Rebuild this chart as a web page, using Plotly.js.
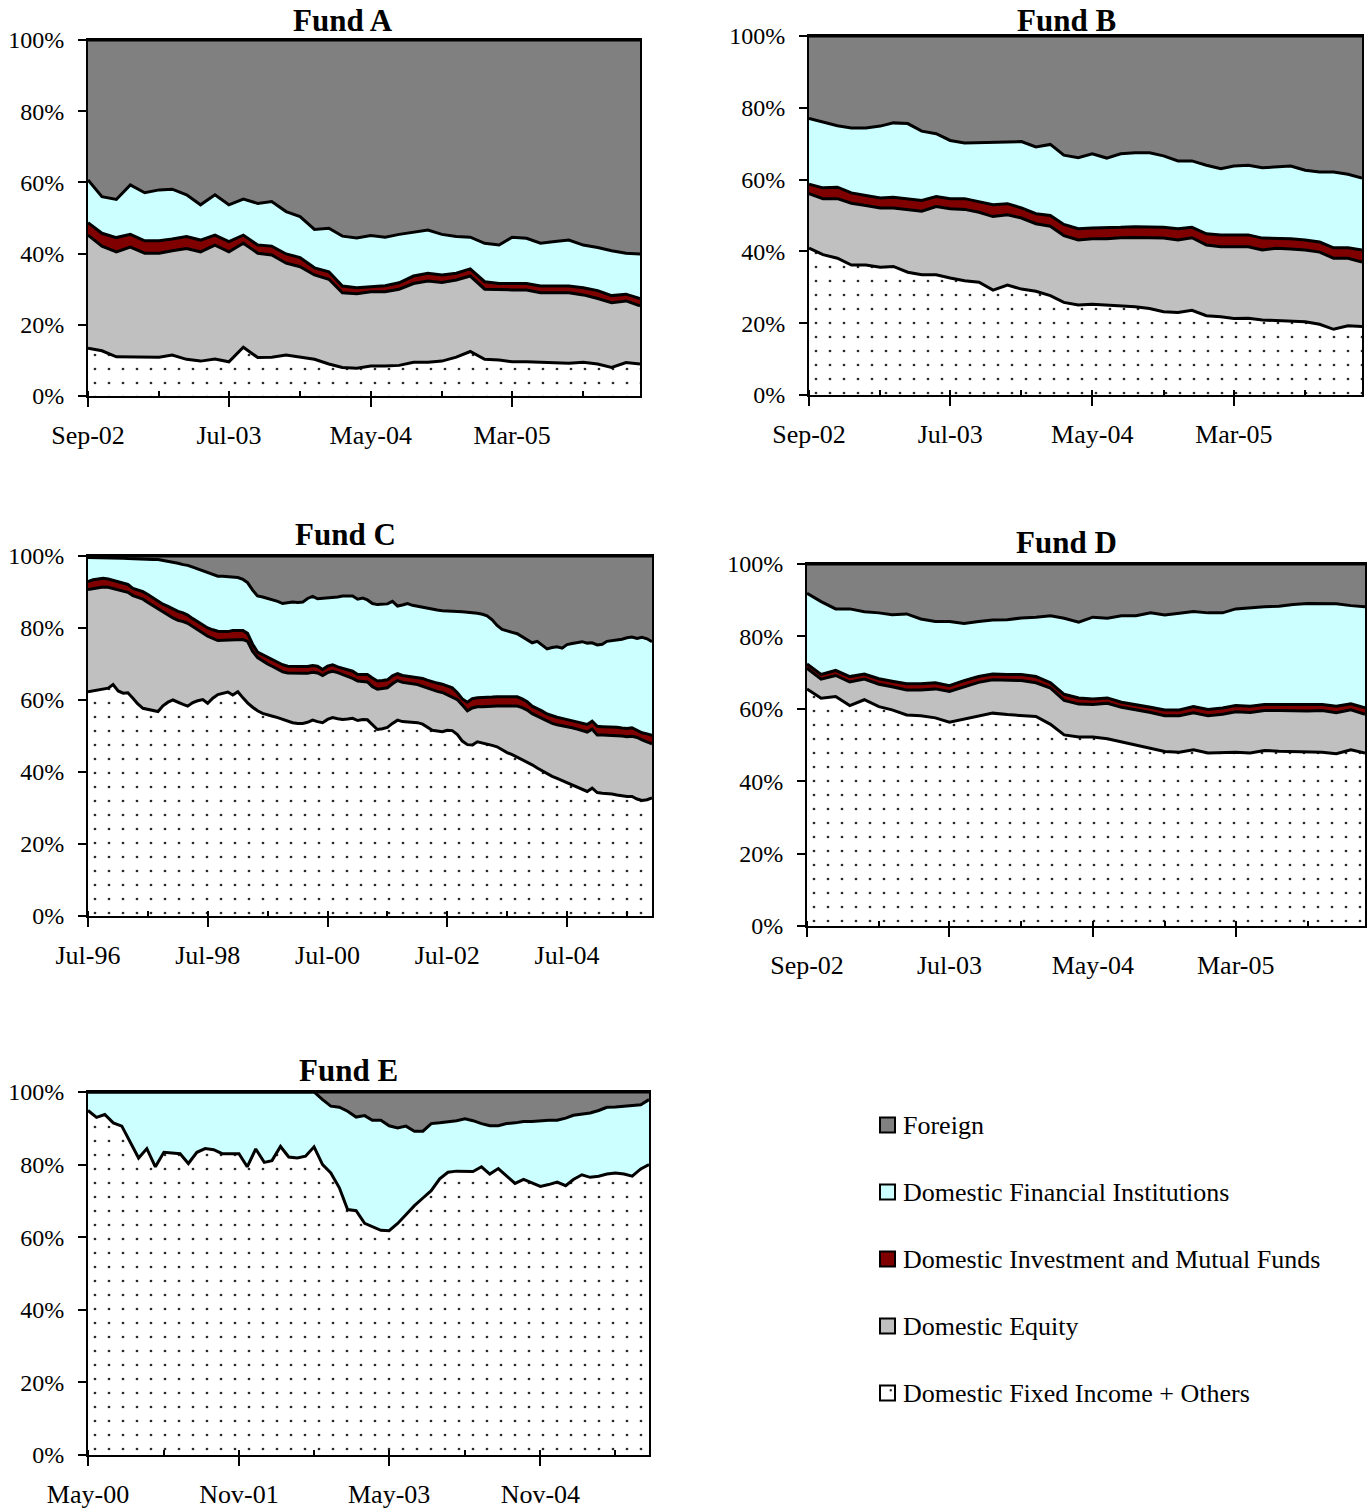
<!DOCTYPE html>
<html>
<head>
<meta charset="utf-8">
<script src="https://cdn.plot.ly/plotly-3.0.1.min.js"></script>
<style>
html,body{margin:0;padding:0;background:#fff;}
#chart{width:1372px;height:1508px;}
</style>
</head>
<body>
<div id="chart"></div>
<script>
// ---------------- DATA ----------------
const seriesNames = ['Domestic Fixed Income + Others','Domestic Equity','Domestic Investment and Mutual Funds','Domestic Financial Institutions','Foreign'];
const legendOrder = ['Foreign','Domestic Financial Institutions','Domestic Investment and Mutual Funds','Domestic Equity','Domestic Fixed Income + Others'];
const yTickValues = [0,20,40,60,80,100];
const yTickLabels = ['0%','20%','40%','60%','80%','100%'];

// Fund A: monthly, Sep-02 .. Dec-05 (shares in %)
const fundA_start = [2002, 9], fundA_count = 40;
const fundA_tickDates = ['2002-09-01','2003-07-01','2004-05-01','2005-03-01'];
const fundA_tickLabels = ['Sep-02','Jul-03','May-04','Mar-05'];
const fundA_fixed = [13.4,12.7,11.0,11.0,10.9,10.9,11.5,10.3,9.8,10.4,9.6,13.7,10.8,10.9,11.5,11.0,10.3,9.0,8.0,7.8,8.4,8.4,8.6,9.5,9.5,9.8,10.9,12.5,10.3,10.1,9.6,9.6,9.5,9.2,9.2,9.5,9.0,8.0,9.4,9.0];
const fundA_equity = [31.8,29.4,29.5,30.8,29.2,29.2,29.3,31.1,30.7,32.0,30.9,29.2,29.3,28.7,25.8,25.3,23.7,23.8,21.0,20.9,20.9,20.9,21.4,22.1,22.8,22.1,21.7,21.2,19.7,19.7,20.2,20.2,19.5,19.8,19.8,18.9,18.4,18.2,17.3,16.3];
const fundA_invest = [3.5,3.6,4.0,3.6,3.5,3.5,3.3,3.4,3.3,2.8,2.9,2.3,2.3,2.5,2.6,2.6,2.0,2.1,1.9,1.7,1.4,1.7,1.8,2.1,2.2,2.1,1.9,2.0,2.1,1.8,1.8,1.8,1.9,1.9,1.9,2.0,2.2,2.0,1.9,2.1];
const fundA_financial = [12.0,10.3,10.7,13.9,13.5,14.3,14.0,11.7,9.9,11.3,10.3,10.1,11.7,12.5,11.9,11.5,10.8,12.2,14.0,14.0,14.4,13.6,13.6,12.3,12.1,11.4,10.3,8.9,10.8,10.8,13.0,12.7,12.0,12.5,12.9,12.0,12.1,12.6,11.5,12.5];
const fundA_foreign = [39.3,44.0,44.8,40.7,42.9,42.1,41.9,43.5,46.3,43.5,46.3,44.7,45.9,45.4,48.2,49.6,53.2,52.9,55.1,55.6,54.9,55.4,54.6,54.0,53.4,54.6,55.2,55.4,57.1,57.6,55.4,55.7,57.1,56.6,56.2,57.6,58.3,59.2,59.9,60.1];

// Fund B: monthly, Sep-02 .. Dec-05
const fundB_start = [2002, 9], fundB_count = 40;
const fundB_tickDates = ['2002-09-01','2003-07-01','2004-05-01','2005-03-01'];
const fundB_tickLabels = ['Sep-02','Jul-03','May-04','Mar-05'];
const fundB_fixed = [40.9,39.1,38.1,36.2,36.2,35.6,35.8,34.2,33.5,33.5,32.6,31.8,31.4,29.2,30.6,29.5,28.9,27.7,25.8,25.1,25.3,25.1,24.9,24.6,24.1,23.2,23.0,23.6,22.1,21.8,21.3,21.4,20.9,20.7,20.4,20.4,19.7,18.3,19.3,19.1];
const fundB_equity = [15.2,15.6,16.6,17.2,16.6,16.5,16.3,17.5,17.7,19.0,19.3,19.9,19.5,20.5,19.6,19.8,18.8,19.3,18.6,18.1,18.2,18.4,18.9,19.3,19.8,20.5,20.2,20.2,19.7,19.5,20.0,19.9,19.5,20.2,20.3,20.0,20.1,19.8,18.8,17.9];
const fundB_invest = [2.6,3.0,3.2,2.9,2.8,2.8,3.0,3.0,3.0,2.8,2.8,3.0,3.0,3.3,3.1,2.8,2.8,3.0,3.1,3.1,3.0,3.0,2.9,3.0,3.0,3.0,3.1,2.9,3.1,3.3,3.3,3.3,3.3,2.8,2.8,2.8,2.8,2.9,2.9,3.4];
const fundB_financial = [18.3,18.4,17.1,18.1,18.8,20.0,20.7,20.9,19.3,17.5,16.2,15.5,16.4,17.6,17.2,18.5,18.6,19.8,19.3,19.8,20.7,19.5,20.5,20.6,20.6,19.9,18.9,18.5,19.1,18.4,19.2,19.4,19.6,19.8,20.3,19.4,19.5,21.1,20.5,20.0];
const fundB_foreign = [23.0,23.9,25.0,25.6,25.6,25.1,24.2,24.4,26.5,27.2,29.1,29.8,29.7,29.4,29.5,29.4,30.9,30.2,33.2,33.9,32.8,34.0,32.8,32.5,32.5,33.4,34.8,34.8,36.0,37.0,36.2,36.0,36.7,36.5,36.2,37.4,37.9,37.9,38.5,39.6];

// Fund C: monthly, Jul-96 .. Dec-05
const fundC_start = [1996, 7], fundC_count = 114;
const fundC_tickDates = ['1996-07-01','1998-07-01','2000-07-01','2002-07-01','2004-07-01'];
const fundC_tickLabels = ['Jul-96','Jul-98','Jul-00','Jul-02','Jul-04'];
const fundC_fixed = [62.3,62.6,62.9,63.0,63.3,64.3,62.5,61.9,62.0,60.5,58.9,57.7,57.4,57.1,56.8,58.4,59.4,60.0,59.5,58.8,58.3,59.3,59.8,60.1,59.1,60.5,61.5,61.8,62.2,61.4,62.3,60.6,59.2,58.0,57.0,56.3,55.8,55.5,55.1,54.6,54.1,53.7,53.5,53.5,53.8,54.4,54.0,53.7,54.6,55.1,54.8,54.6,54.7,54.9,54.3,54.6,54.5,53.0,51.8,52.0,52.4,53.5,54.4,54.0,53.9,53.8,53.7,53.3,52.5,51.6,51.4,51.2,51.6,51.5,50.4,48.6,47.6,47.5,48.4,48.1,47.9,47.4,47.0,46.1,45.4,44.8,44.1,43.6,42.9,42.0,41.1,40.3,39.4,38.8,38.2,37.6,37.0,36.4,35.9,35.3,34.6,35.5,34.3,34.1,34.1,33.9,33.6,33.3,33.2,33.2,32.5,32.1,32.3,32.8];
const fundC_equity = [28.4,28.4,28.3,28.4,28.0,26.7,28.1,28.4,27.9,28.5,29.6,30.3,29.7,29.1,28.4,26.0,24.2,22.8,22.6,23.0,23.0,21.1,19.6,18.4,18.6,16.6,15.0,14.8,14.5,15.4,14.6,16.2,17.1,15.5,14.8,14.5,14.2,13.8,13.5,13.2,13.4,13.7,13.9,13.9,13.6,13.3,13.5,13.1,13.0,12.9,12.8,12.5,11.8,11.1,11.0,10.6,10.5,10.7,11.2,11.2,11.0,11.0,11.0,10.9,10.8,10.8,10.6,10.5,10.8,11.2,11.0,10.9,9.9,9.4,9.7,10.0,9.4,10.3,9.7,10.0,10.3,10.8,11.3,12.2,12.9,13.5,14.2,14.3,14.3,14.2,14.4,14.4,14.6,14.7,14.9,15.3,15.6,15.9,16.0,16.2,16.5,16.4,16.0,16.2,16.2,16.3,16.5,16.7,16.6,16.7,17.1,16.8,16.1,15.0];
const fundC_invest = [2.2,2.4,2.4,2.4,2.3,2.2,2.1,2.2,2.2,2.0,2.0,2.1,2.2,2.2,2.1,2.2,2.4,2.4,2.5,2.4,2.3,2.2,2.3,2.3,2.3,2.4,2.6,2.4,2.3,2.5,2.5,2.5,2.2,2.0,1.5,1.8,2.0,2.0,2.0,2.0,1.9,1.9,1.9,1.9,1.9,1.9,1.9,1.7,1.8,1.8,1.6,1.7,1.9,2.0,1.8,2.0,2.1,2.4,2.3,2.2,2.2,2.2,1.9,1.9,1.9,1.9,2.0,2.2,2.2,2.2,2.3,2.3,2.4,2.5,1.9,1.7,2.4,2.6,2.5,2.5,2.5,2.6,2.6,2.6,2.6,2.6,2.6,2.4,2.3,2.1,2.2,2.2,2.1,2.1,2.1,2.0,2.0,2.0,2.1,2.0,2.1,2.2,2.4,2.3,2.3,2.3,2.3,2.2,2.3,2.4,2.0,2.0,2.2,2.4];
const fundC_financial = [6.7,6.2,6.0,5.8,5.9,6.3,6.8,6.9,7.2,8.2,8.6,9.0,9.8,10.6,11.7,12.2,12.5,13.1,13.4,13.4,13.8,14.3,14.7,15.0,15.3,15.3,15.3,15.4,15.3,14.9,14.6,14.2,14.1,15.0,15.6,16.0,16.2,16.7,16.8,17.0,17.6,17.9,17.8,17.9,18.9,19.2,18.7,19.7,18.9,18.6,19.4,20.1,20.6,20.9,20.9,21.1,20.7,20.7,21.2,21.2,21.1,20.7,18.8,19.6,20.2,19.8,19.7,19.8,20.1,20.3,20.3,20.4,20.9,21.3,22.6,24.2,25.0,23.8,23.5,23.2,22.7,21.5,19.8,18.7,18.2,17.9,17.5,17.3,17.2,17.6,18.6,18.3,18.1,19.0,19.6,19.5,20.8,21.4,22.0,22.7,22.6,21.8,22.6,22.9,23.7,24.0,24.4,24.7,25.2,25.2,25.5,26.5,26.4,26.0];
const fundC_foreign = [0.4,0.4,0.4,0.4,0.5,0.5,0.5,0.6,0.7,0.8,0.9,0.9,0.9,1.0,1.0,1.2,1.5,1.7,2.0,2.4,2.6,3.1,3.6,4.2,4.7,5.2,5.6,5.6,5.7,5.8,6.0,6.5,7.4,9.5,11.1,11.4,11.8,12.0,12.6,13.2,13.0,12.8,12.9,12.8,11.8,11.2,11.9,11.8,11.7,11.6,11.4,11.1,11.0,11.1,12.0,11.7,12.2,13.2,13.5,13.4,13.3,12.6,13.9,13.6,13.2,13.7,14.0,14.2,14.4,14.7,15.0,15.2,15.2,15.3,15.4,15.5,15.6,15.8,15.9,16.2,16.6,17.7,19.3,20.4,20.9,21.2,21.6,22.4,23.3,24.1,23.7,24.8,25.8,25.4,25.2,25.6,24.6,24.3,24.0,23.8,24.2,24.1,24.7,24.5,23.7,23.5,23.2,23.1,22.7,22.5,22.9,22.6,23.0,23.8];

// Fund D: monthly, Sep-02 .. Dec-05
const fundD_start = [2002, 9], fundD_count = 40;
const fundD_tickDates = ['2002-09-01','2003-07-01','2004-05-01','2005-03-01'];
const fundD_tickLabels = ['Sep-02','Jul-03','May-04','Mar-05'];
const fundD_fixed = [65.5,62.9,63.4,60.9,62.5,60.6,59.7,58.3,58.1,57.5,56.3,57.2,58.1,58.8,58.4,58.1,57.9,55.7,52.8,52.2,52.2,51.7,50.8,49.9,49.1,48.2,48.0,48.7,47.8,48.0,48.0,47.8,48.5,48.3,48.2,48.2,48.0,47.6,48.7,47.8];
const fundD_equity = [5.7,5.3,5.8,6.5,5.7,6.2,6.4,6.9,7.1,8.0,8.5,8.9,9.2,9.2,9.4,9.7,9.3,10.0,9.5,9.1,9.0,9.8,9.6,9.8,9.9,9.9,10.1,10.2,10.3,10.5,11.2,11.2,11.0,11.2,11.2,11.2,11.5,11.3,11.0,10.7];
const fundD_invest = [1.2,1.3,1.4,1.5,1.4,1.5,1.5,1.7,1.7,1.7,1.6,1.7,1.6,1.6,1.7,1.7,1.7,1.5,1.7,1.7,1.5,1.5,1.4,1.5,1.4,1.6,1.6,1.7,1.7,1.7,1.7,1.7,1.7,1.7,1.8,1.7,1.7,1.8,1.7,1.8];
const fundD_financial = [19.5,20.1,17.0,18.7,17.2,18.2,18.4,19.3,17.9,16.9,17.7,15.8,15.2,14.9,15.1,15.6,16.4,18.5,21.0,20.9,22.6,22.0,23.9,24.5,26.1,26.2,26.7,26.3,26.7,26.3,26.7,27.3,27.0,27.1,27.6,28.0,27.8,28.3,27.1,27.9];
const fundD_foreign = [8.1,10.4,12.4,12.4,13.2,13.5,14.0,13.8,15.2,15.9,15.9,16.4,15.9,15.5,15.4,14.9,14.7,14.3,15.0,16.1,14.7,15.0,14.3,14.3,13.5,14.1,13.6,13.1,13.5,13.5,12.4,12.0,11.8,11.7,11.2,10.9,11.0,11.0,11.5,11.8];

// Fund E: monthly, May-00 .. Dec-05 (no equity / mutual fund holdings)
const fundE_start = [2000, 5], fundE_count = 68;
const fundE_tickDates = ['2000-05-01','2001-11-01','2003-05-01','2004-11-01'];
const fundE_tickLabels = ['May-00','Nov-01','May-03','Nov-04'];
const fundE_fixed = [94.9,93.0,93.8,91.5,90.6,86.2,81.8,84.4,79.4,83.4,83.2,83.0,80.3,83.4,84.4,84.1,83.0,82.9,83.0,79.4,84.3,80.6,81.1,85.0,82.1,81.8,82.3,84.9,80.0,77.7,73.6,67.6,67.3,63.8,62.8,61.9,61.8,63.8,66.2,68.7,70.8,72.8,76.1,77.9,78.2,78.2,78.1,79.4,77.4,78.9,76.8,74.8,75.9,75.0,74.0,74.5,75.2,74.2,75.9,77.2,76.5,76.8,77.4,77.7,77.4,76.8,78.8,80.0];
const fundE_financial = [5.1,7.0,6.2,8.5,9.4,13.8,18.2,15.6,20.6,16.6,16.8,17.0,19.7,16.6,15.6,15.9,17.0,17.1,17.0,20.6,15.7,19.4,18.9,15.0,17.9,18.2,17.7,15.1,17.9,18.4,22.2,27.1,25.8,29.7,29.4,30.3,28.9,26.3,24.4,20.5,18.4,18.5,15.4,13.8,13.9,14.4,14.0,11.9,13.3,11.8,14.5,16.7,16.0,16.9,18.1,17.7,17.0,18.6,17.7,16.8,17.7,18.1,18.4,18.2,18.7,19.3,17.7,17.9];
const fundE_foreign = [0,0,0,0,0,0,0,0,0,0,0,0,0,0,0,0,0,0,0,0,0,0,0,0,0,0,0,0,2.1,3.9,4.2,5.3,6.9,6.5,7.8,7.8,9.3,9.9,9.4,10.8,10.8,8.7,8.5,8.3,7.9,7.4,7.9,8.7,9.3,9.3,8.7,8.5,8.1,8.1,7.9,7.8,7.8,7.2,6.4,6.0,5.8,5.1,4.2,4.1,3.9,3.9,3.5,2.1];

// ---------------- STYLE ----------------
const W = 1372, H = 1508;
const FONT = 'Liberation Serif, Times New Roman, serif';
const colors = {
  'Foreign': '#808080',
  'Domestic Financial Institutions': '#CCFFFF',
  'Domestic Investment and Mutual Funds': '#800000',
  'Domestic Equity': '#C0C0C0',
  'Domestic Fixed Income + Others': '#FFFFFF'
};
const dotPattern = {shape: '.', size: 14, solidity: 0.03, fgcolor: '#2a2a2a', bgcolor: '#FFFFFF', fillmode: 'replace'};

function monthList(start, count) {
  const out = [];
  let y = start[0], m = start[1];
  for (let i = 0; i < count; i++) {
    out.push(y + '-' + String(m).padStart(2, '0') + '-01');
    m++; if (m > 12) { m = 1; y++; }
  }
  return out;
}
const px = x => x / W;
const py = y => 1 - y / H;

// panels: pixel boxes [left, right, top, bottom]
const panels = [
  {name: 'Fund A', box: [88, 640, 40, 396], titleX: 343, titleY: 20, start: fundA_start, count: fundA_count,
   tickDates: fundA_tickDates, tickLabels: fundA_tickLabels, minor: 'M5',
   series: [fundA_fixed, fundA_equity, fundA_invest, fundA_financial, fundA_foreign]},
  {name: 'Fund B', box: [809, 1362, 36, 395], titleX: 1066, titleY: 20, start: fundB_start, count: fundB_count,
   tickDates: fundB_tickDates, tickLabels: fundB_tickLabels, minor: 'M5',
   series: [fundB_fixed, fundB_equity, fundB_invest, fundB_financial, fundB_foreign]},
  {name: 'Fund C', box: [88, 652, 556, 916], titleX: 345, titleY: 534, start: fundC_start, count: fundC_count,
   tickDates: fundC_tickDates, tickLabels: fundC_tickLabels, minor: 'M12',
   series: [fundC_fixed, fundC_equity, fundC_invest, fundC_financial, fundC_foreign]},
  {name: 'Fund D', box: [807, 1365, 564, 926], titleX: 1066, titleY: 542, start: fundD_start, count: fundD_count,
   tickDates: fundD_tickDates, tickLabels: fundD_tickLabels, minor: 'M5',
   series: [fundD_fixed, fundD_equity, fundD_invest, fundD_financial, fundD_foreign]},
  {name: 'Fund E', box: [88, 649, 1092, 1455], titleX: 348, titleY: 1070, start: fundE_start, count: fundE_count,
   tickDates: fundE_tickDates, tickLabels: fundE_tickLabels, minor: 'M9',
   series: [fundE_fixed, null, null, fundE_financial, fundE_foreign]}
];

const traces = [];
const layout = {
  width: W, height: H,
  margin: {l: 0, r: 0, t: 0, b: 0},
  paper_bgcolor: '#FFFFFF', plot_bgcolor: '#FFFFFF',
  showlegend: false, hovermode: false,
  font: {family: FONT, size: 25, color: '#000'},
  annotations: [], shapes: []
};

panels.forEach((p, k) => {
  const idx = k === 0 ? '' : String(k + 1);
  const xa = 'x' + idx, ya = 'y' + idx;
  const dates = monthList(p.start, p.count);
  p.series.forEach((vals, s) => {
    if (!vals) return;
    const nm = seriesNames[s];
    const t = {
      type: 'scatter', mode: 'lines', x: dates, y: vals, name: nm,
      xaxis: xa, yaxis: ya, stackgroup: 'stack' + k, groupnorm: 'percent',
      line: {color: '#000000', width: 3, shape: 'linear'},
      fillcolor: colors[nm], hoverinfo: 'skip'
    };
    if (s === 0) t.fillpattern = dotPattern;
    traces.push(t);
  });
  const [l, r, top, bot] = p.box;
  layout['xaxis' + idx] = {
    domain: [px(l), px(r)], anchor: ya, type: 'date',
    range: [dates[0], dates[dates.length - 1]],
    tickmode: 'array', tickvals: p.tickDates, ticktext: p.tickLabels,
    ticks: 'outside', ticklen: 9, tickwidth: 2, tickcolor: '#000',
    minor: {tick0: dates[0], dtick: p.minor, ticks: 'inside', ticklen: 5, tickwidth: 2, tickcolor: '#000', showgrid: false},
    ticklabelstandoff: 6,
    showline: true, linecolor: '#000', linewidth: 2, mirror: true,
    showgrid: false, zeroline: false, fixedrange: true,
    tickfont: {family: FONT, size: 26, color: '#000'}
  };
  layout['yaxis' + idx] = {
    domain: [py(bot), py(top)], anchor: xa, range: [0, 100],
    tickmode: 'array', tickvals: yTickValues, ticktext: yTickLabels,
    ticks: 'outside', ticklen: 8, tickwidth: 2, tickcolor: '#000',
    ticklabelstandoff: 9,
    showline: true, linecolor: '#000', linewidth: 2, mirror: true,
    showgrid: false, zeroline: false, fixedrange: true,
    tickfont: {family: FONT, size: 24, color: '#000'}
  };
  layout.annotations.push({
    xref: 'paper', yref: 'paper', x: px(p.titleX), y: py(p.titleY),
    xanchor: 'center', yanchor: 'middle', showarrow: false,
    text: '<b>' + p.name + '</b>', font: {family: FONT, size: 31, color: '#000'}
  });
});

// legend (drawn as shapes + text)
const legendY = [1125, 1192, 1259, 1326, 1393];
legendOrder.forEach((nm, i) => {
  const cy = legendY[i];
  layout.shapes.push({
    type: 'rect', xref: 'paper', yref: 'paper',
    x0: px(880), x1: px(895), y0: py(cy + 7.5), y1: py(cy - 7.5),
    fillcolor: colors[nm], line: {color: '#000', width: 2}
  });
  if (nm === 'Domestic Fixed Income + Others') {
    layout.shapes.push({
      type: 'circle', xref: 'paper', yref: 'paper',
      x0: px(889.5), x1: px(892), y0: py(1391.5), y1: py(1389),
      fillcolor: '#333', line: {width: 0}
    });
  }
  layout.annotations.push({
    xref: 'paper', yref: 'paper', x: px(901), y: py(cy),
    xanchor: 'left', yanchor: 'middle', showarrow: false,
    text: nm, font: {family: FONT, size: 26, color: '#000'}
  });
});

Plotly.newPlot('chart', traces, layout, {staticPlot: true, displayModeBar: false});
</script>
</body>
</html>
